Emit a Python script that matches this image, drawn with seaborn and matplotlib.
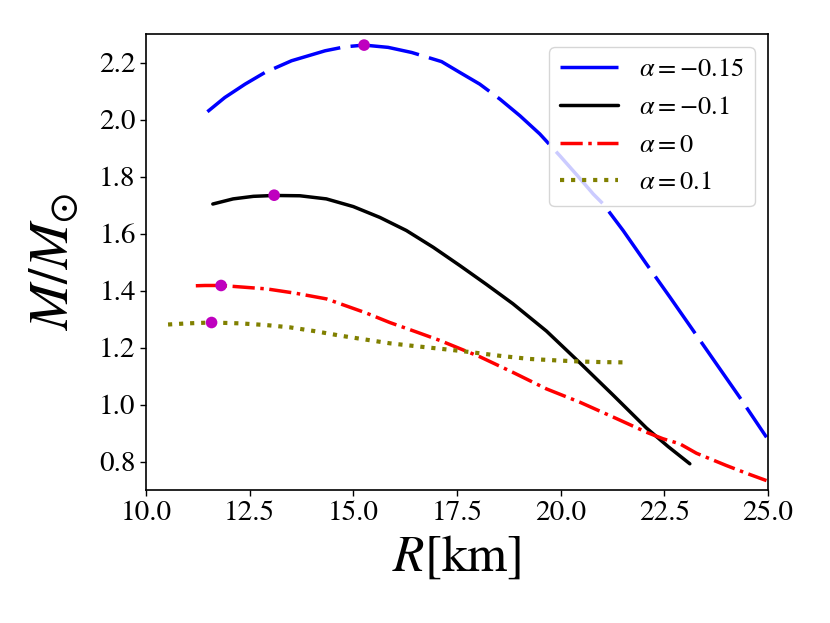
import numpy as np
import pandas as pd
import seaborn as sns
import matplotlib.pyplot as plt

# mass-radius curves
r_m015 = [11.48, 11.90, 12.39, 12.87, 13.51, 14.32, 14.80, 15.26, 15.84, 16.41, 17.13, 17.57, 18.05, 18.54,
          19.02, 19.50, 19.98, 20.40, 20.79, 21.03, 21.51, 22.07, 22.64, 23.20, 23.76, 24.32, 24.97]
m_m015 = [2.028, 2.078, 2.125, 2.166, 2.207, 2.242, 2.256, 2.262, 2.254, 2.236, 2.204, 2.166, 2.125, 2.072,
          2.014, 1.950, 1.874, 1.805, 1.739, 1.704, 1.611, 1.494, 1.377, 1.260, 1.143, 1.026, 0.885]

r_m01 = [11.61, 12.10, 12.59, 13.09, 13.71, 14.35, 15.00, 15.64, 16.28, 16.93, 17.57, 18.21, 18.85,
         19.66, 20.47, 21.27, 22.07, 22.60, 23.12]
m_m01 = [1.704, 1.722, 1.731, 1.734, 1.733, 1.722, 1.695, 1.657, 1.611, 1.552, 1.488, 1.422, 1.354,
         1.258, 1.146, 1.033, 0.918, 0.852, 0.792]

r_0 = [11.20, 11.42, 11.81, 12.91, 13.60, 14.35, 14.68, 15.30, 15.88, 16.50, 17.09, 18.05, 18.85, 19.66,
       20.47, 21.27, 22.07, 22.47, 22.88, 23.28, 24.00, 24.50, 24.97]
m_0 = [1.417, 1.418, 1.418, 1.406, 1.391, 1.371, 1.354, 1.322, 1.288, 1.256, 1.225, 1.168, 1.113, 1.055,
       1.008, 0.956, 0.903, 0.880, 0.862, 0.829, 0.786, 0.758, 0.733]

r_01 = [10.53, 11.00, 11.58, 12.27, 12.90, 13.47, 14.10, 14.68, 15.30, 15.88, 16.50, 17.09, 17.60, 18.05,
        18.60, 19.26, 19.90, 20.47, 21.00, 21.55]
m_01 = [1.281, 1.285, 1.288, 1.285, 1.279, 1.271, 1.257, 1.242, 1.228, 1.215, 1.205, 1.196, 1.188, 1.180,
        1.170, 1.160, 1.155, 1.151, 1.149, 1.148]

# maximum-mass points
peak_r = [15.26, 13.09, 11.81, 11.58]
peak_m = [2.262, 1.735, 1.418, 1.288]

labels = [r'$\alpha=-0.15$', r'$\alpha=-0.1$', r'$\alpha=0$', r'$\alpha=0.1$']

sns.set_style('ticks')
plt.rcParams['font.family'] = ['STIXGeneral', 'DejaVu Serif']
plt.rcParams['mathtext.fontset'] = 'stix'
plt.rcParams['text.color'] = 'black'
plt.rcParams['axes.labelcolor'] = 'black'

fig = plt.figure(figsize=(8.3, 6.23), dpi=100)
ax = fig.add_axes([0.176, 0.2135, 0.749, 0.7315])

sns.lineplot(x=r_m015, y=m_m015, ax=ax, color='blue', lw=2.5, linestyle=(0, (20, 3)), label=labels[0], errorbar=None)
sns.lineplot(x=r_m01, y=m_m01, ax=ax, color='black', lw=2.5, linestyle='-', label=labels[1], errorbar=None)
sns.lineplot(x=r_0, y=m_0, ax=ax, color='red', lw=2.5, linestyle='-.', label=labels[2], errorbar=None)
sns.lineplot(x=r_01, y=m_01, ax=ax, color='olive', lw=3, linestyle=':', label=labels[3], errorbar=None)

sns.scatterplot(x=peak_r, y=peak_m, ax=ax, color='m', s=70, edgecolor='none', zorder=5, legend=False)

ax.set_xlim(10, 25)
ax.set_ylim(0.7, 2.3)
ax.set_xticks([10, 12.5, 15, 17.5, 20, 22.5, 25])
ax.set_xticklabels(['10.0', '12.5', '15.0', '17.5', '20.0', '22.5', '25.0'])
ax.set_yticks([0.8, 1.0, 1.2, 1.4, 1.6, 1.8, 2.0, 2.2])
ax.tick_params(labelsize=21, length=4, width=1, colors='black')
for s in ax.spines.values():
    s.set_visible(True)
    s.set_color('black')
    s.set_linewidth(1.2)

ax.set_xlabel(r'$R$[km]', fontsize=37, labelpad=6)
ax.set_ylabel(r'$M/M_{\odot}$', fontsize=40, labelpad=14)

ax.legend(loc='upper right', fontsize=19, handlelength=2.2, frameon=True)

fig.savefig('out.png', dpi=100)
